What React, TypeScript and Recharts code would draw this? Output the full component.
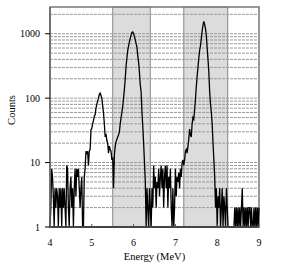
import {
  LineChart,
  Line,
  XAxis,
  YAxis,
  ReferenceArea,
  ReferenceLine,
} from "recharts";

// spectrum: counts per 0.02 MeV bin starting at 4.00 MeV
const binStart = 4.0;
const binWidth = 0.02;
const counts = [
  1, 2, 8, 6, 3, // 4.0
  1, 4, 2, 4, 3, // 4.1
  1, 4, 2, 4, 1, // 4.2
  4, 2, 4, 2, 1, // 4.3
  9, 8, 2, 1, 4, // 4.4
  6, 2, 4, 1, 4, // 4.5
  8, 3, 8, 6, 8, // 4.6
  4, 2, 4, 6, 1, // 4.7
  1, 6, 8, 15, 14, // 4.8
  15, 9, 15, 16, 32, // 4.9
  34, 40, 45, 52, 55, // 5.0
  70, 80, 90, 100, 115, // 5.1
  120, 110, 100, 75, 60, // 5.2
  40, 25, 28, 22, 20, // 5.3
  14, 18, 16, 15, 11, // 5.4
  12, 4, 13, 18, 21, // 5.5
  23, 25, 27, 30, 40, // 5.6
  50, 60, 75, 100, 138, // 5.7
  200, 316, 420, 550, 650, // 5.8
  750, 850, 950, 1050, 1070, // 5.9
  1000, 900, 800, 700, 620, // 6.0
  450, 360, 250, 160, 125, // 6.1
  60, 36, 20, 10, 5, // 6.2
  1, 4, 2, 1, 4, // 6.3
  2, 1, 4, 2, 9, // 6.4
  4, 6, 2, 5, 4, // 6.5
  8, 3, 6, 9, 4, // 6.6
  8, 2, 6, 9, 4, // 6.7
  9, 2, 6, 4, 8, // 6.8
  2, 1, 4, 1, 2, // 6.9
  8, 3, 6, 5, 7, // 7.0
  4, 8, 6, 10, 11, // 7.1
  9, 11, 15, 16, 14, // 7.2
  18, 23, 33, 27, 25, // 7.3
  40, 50, 47, 67, 96, // 7.4
  150, 220, 300, 420, 550, // 7.5
  650, 850, 1100, 1350, 1550, // 7.6
  1400, 1200, 930, 600, 400, // 7.7
  250, 125, 80, 60, 40, // 7.8
  20, 11, 6, 2, 4, // 7.9
  1, 3, 2, 4, 1, // 8.0
  2, 4, 1, 3, 2, // 8.1
  1, 4, 2, 1, 1, // 8.2
  1, 1, 1, 1, 1, // 8.3
  1, 2, 1, 2, 1, // 8.4
  2, 1, 2, 1, 2, // 8.5
  4, 1, 2, 1, 2, // 8.6
  1, 2, 1, 2, 2, // 8.7
  1, 2, 1, 1, 2, // 8.8
  1, 2, 1, 2, 1, // 8.9
  2, // 9.0
];

const xTicks = [4, 5, 6, 7, 8, 9];
const yTicks = [1, 10, 100, 1000];
const yMax = 2600;
const gridValues = [
  2, 3, 4, 5, 6, 7, 8, 9, 10,
  20, 30, 40, 50, 60, 70, 80, 90, 100,
  200, 300, 400, 500, 600, 700, 800, 900, 1000,
  2000,
];
// shaded energy windows
const windows = [
  { from: 5.5, to: 6.4 },
  { from: 7.2, to: 8.25 },
];

const data = counts.map((c, i) => ({
  energy: +(binStart + i * binWidth).toFixed(2),
  counts: c,
}));

const font = "'Liberation Serif', 'Times New Roman', serif";

export default function App() {
  return (
    <div style={{ position: "absolute", left: 0, top: 0 }}>
      <LineChart
        width={287}
        height={268}
        data={data}
        margin={{ top: 7, right: 28, bottom: 0, left: 0 }}
      >
        <XAxis
          dataKey="energy"
          type="number"
          domain={[4, 9]}
          ticks={xTicks}
          height={41}
          tick={{ fill: "#000", fontSize: 10, fontFamily: font }}
          tickSize={-3}
          tickMargin={15}
          tickLine={{ stroke: "#555" }}
          axisLine={{ stroke: "#444", strokeWidth: 2 }}
          label={{
            value: "Energy (MeV)",
            position: "insideBottom",
            offset: 8,
            fill: "#000",
            fontSize: 10.5,
            fontFamily: font,
          }}
        />
        <YAxis
          scale="log"
          domain={[1, yMax]}
          allowDataOverflow
          ticks={yTicks}
          width={50}
          tick={{ fill: "#000", fontSize: 10, fontFamily: font }}
          tickSize={5}
          tickMargin={5}
          tickLine={{ stroke: "#000" }}
          axisLine={{ stroke: "#666", strokeWidth: 1.5 }}
          label={{
            content: () => (
              <text
                x={11}
                y={110}
                transform="rotate(-90 11 110)"
                textAnchor="middle"
                dominantBaseline="central"
                fontSize={10.5}
                fontFamily={font}
                fill="#000"
              >
                Counts
              </text>
            ),
          }}
        />
        {windows.map((w, i) => (
          <ReferenceArea
            key={i}
            x1={w.from}
            x2={w.to}
            y1={1}
            y2={yMax}
            fill="#dcdcdc"
            fillOpacity={1}
            stroke="#999"
            strokeWidth={1.2}
          />
        ))}
        {gridValues.map((v) => (
          <ReferenceLine
            key={v}
            y={v}
            stroke="#9a9a9a"
            strokeWidth={1}
            strokeDasharray="3 1"
          />
        ))}
        <ReferenceArea
          x1={4}
          x2={9}
          y1={1}
          y2={yMax}
          fill="none"
          stroke="#777"
          strokeWidth={1.5}
        />
        <Line
          type="linear"
          dataKey="counts"
          stroke="#000"
          strokeWidth={1.3}
          dot={false}
          isAnimationActive={false}
        />
      </LineChart>
    </div>
  );
}
